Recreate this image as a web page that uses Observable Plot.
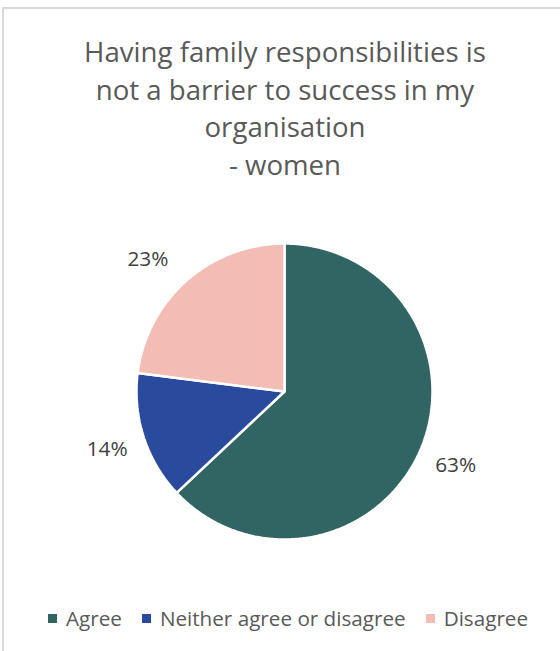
<!DOCTYPE html>
<html>
<head>
<meta charset="utf-8">
<script src="https://cdn.jsdelivr.net/npm/d3@7"></script>
<script src="https://cdn.jsdelivr.net/npm/@observablehq/plot@0.6"></script>
<style>
  body { margin: 0; background: #fff; }
  #wrap { position: relative; width: 560px; height: 651px; overflow: hidden; font-family: "Open Sans", sans-serif; background: #fff; }
  #frame { position: absolute; left: 2px; top: 7px; width: 700px; height: 800px; border-left: 2px solid #d9d9d9; border-top: 2px solid #d9d9d9; box-sizing: border-box; }
  #title { position: absolute; left: 0; width: 570px; text-align: center; color: #595959; }
  #title div { white-space: nowrap; }
  #chart { position: absolute; left: 0; top: 196px; }
  #legend { position: absolute; left: 0; width: 576px; display: flex; justify-content: center; align-items: center; color: #595959; white-space: nowrap; }
  .item { display: flex; align-items: center; }
  .sw { width: 9px; height: 9px; margin-right: 9px; }
</style>
</head>
<body>
<div id="wrap">
  <div id="frame"></div>
  <div id="title"></div>
  <div id="chart"></div>
  <div id="legend"></div>
</div>
<script>
// ---- data ----
const titleLines = ["Having family responsibilities is", "not a barrier to success in my", "organisation", "- women"];
const categories = ["Agree", "Neither agree or disagree", "Disagree"];
const values = [63, 14, 23];
const colors = ["#306563", "#2a4a9d", "#f3bcb4"];

// ---- font fitting helper (substitute for Calibri) ----
const FAMILY = "'Open Sans'";
const ctx = document.createElement("canvas").getContext("2d");
function fit(text, target) {
  ctx.font = `400 100px ${FAMILY}`;
  return 100 * target / ctx.measureText(text).width;
}
const A = 1.069, D = 0.293; // Open Sans ascent / descent

// ---- title ----
const titleSize = Math.min(30, fit(titleLines[0], 402));
const titleLH = 37.5;
const title = document.getElementById("title");
title.style.fontSize = titleSize + "px";
title.style.lineHeight = titleLH + "px";
title.style.top = (62.5 - titleLH / 2 - (A - D) / 2 * titleSize) + "px";
titleLines.forEach(t => { const d = document.createElement("div"); d.textContent = t; title.appendChild(d); });

// ---- pie geometry from data ----
const rows = categories.map((c, i) => ({category: c, value: values[i], color: colors[i]}));
const arcs = d3.pie().sort(null).value(d => d.value)(rows);
const slices = arcs.map(a => {
  const pts = [{x: 0, y: 0}];
  const n = Math.max(2, Math.ceil((a.endAngle - a.startAngle) / (Math.PI / 360)));
  for (let k = 0; k <= n; k++) {
    const t = a.startAngle + (a.endAngle - a.startAngle) * k / n;
    pts.push({x: Math.sin(t), y: Math.cos(t)});
  }
  pts.push({x: 0, y: 0});
  return {color: a.data.color, pts};
});
// label placement: outside the slice at mid angle; Excel "best fit" moves the last label up-left
const labels = arcs.map((a, i) => {
  let ang = (a.startAngle + a.endAngle) / 2, r = 1.26;
  if (i === arcs.length - 1) { ang = -0.255 * Math.PI; r = 1.285; }
  return {x: r * Math.sin(ang), y: r * Math.cos(ang), text: Math.round(a.data.value) + "%"};
});
const labelSize = fit("63%", 41);

const chart = Plot.plot({
  width: 560,
  height: 390,
  marginLeft: 136,
  marginRight: 128,
  marginTop: 47,
  marginBottom: 47,
  x: {domain: [-1, 1], axis: null},
  y: {domain: [-1, 1], axis: null},
  style: {fontFamily: "'Open Sans', sans-serif", background: "transparent", overflow: "visible"},
  marks: [
    ...slices.map(s => Plot.line(s.pts, {x: "x", y: "y", fill: s.color, stroke: "white", strokeWidth: 2.5, strokeLinejoin: "miter", curve: "linear"})),
    Plot.text(labels, {x: "x", y: "y", text: "text", fontSize: labelSize, fill: "#404040"})
  ]
});
document.getElementById("chart").appendChild(chart);

// ---- legend ----
const legSize = fit("Neither agree or disagree", 246);
const legend = document.getElementById("legend");
const legLH = 30;
legend.style.fontSize = legSize + "px";
legend.style.lineHeight = legLH + "px";
legend.style.top = (626.5 - legLH / 2 - (A - D) / 2 * legSize) + "px";
categories.forEach((c, i) => {
  const it = document.createElement("div");
  it.className = "item";
  if (i > 0) it.style.marginLeft = "20px";
  const sw = document.createElement("div");
  sw.className = "sw";
  sw.style.background = colors[i];
  const tx = document.createElement("span");
  tx.textContent = c;
  it.appendChild(sw); it.appendChild(tx);
  legend.appendChild(it);
});
</script>
</body>
</html>
